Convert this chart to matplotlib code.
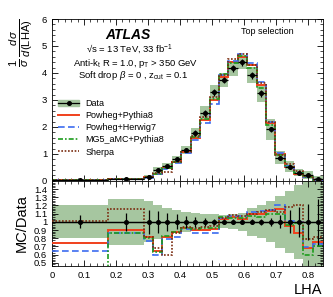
import numpy as np
import matplotlib
matplotlib.use('Agg')
import matplotlib.pyplot as plt
from matplotlib.patches import Patch
from matplotlib.lines import Line2D
from matplotlib.ticker import MultipleLocator

plt.rcParams['font.family'] = ['Liberation Sans', 'DejaVu Sans']
plt.rcParams['mathtext.fontset'] = 'custom'
plt.rcParams['mathtext.rm'] = 'Liberation Sans'
plt.rcParams['mathtext.it'] = 'Liberation Sans:italic'
plt.rcParams['mathtext.bf'] = 'Liberation Sans:bold'

# LHA bin edges
edges = [0.0, 0.175, 0.287, 0.316, 0.345, 0.375, 0.404, 0.433, 0.463, 0.492,
         0.521, 0.551, 0.580, 0.609, 0.639, 0.668, 0.697, 0.727, 0.756,
         0.785, 0.815, 0.845]

# unfolded data, 1/sigma dsigma/d(LHA)
data = [0.04, 0.06, 0.16, 0.41, 0.56, 0.80, 1.15, 1.77, 2.51, 3.28, 3.74,
        4.17, 4.40, 3.91, 3.25, 1.91, 0.86, 0.53, 0.31, 0.21, 0.06]
# relative stat. error on data points
data_err = [0.08, 0.11, 0.15, 0.13, 0.11, 0.09, 0.07, 0.06, 0.05, 0.04, 0.03,
            0.03, 0.03, 0.03, 0.04, 0.05, 0.08, 0.14, 0.18, 0.22, 0.28]
# total uncertainty band: absolute half height (main) / relative (ratio)
band_main = [0.01, 0.02, 0.07, 0.10, 0.10, 0.12, 0.15, 0.20, 0.25, 0.27, 0.27,
             0.27, 0.26, 0.30, 0.32, 0.40, 0.24, 0.19, 0.14, 0.14, 0.12]
band_ratio = [0.20, 0.28, 0.25, 0.21, 0.17, 0.14, 0.12, 0.11, 0.10, 0.09, 0.08,
              0.09, 0.11, 0.17, 0.20, 0.25, 0.32, 0.38, 0.45, 0.55, 0.60]

# MC / Data
r_pp8 = [0.74, 0.90, 0.82, 0.64, 0.82, 0.88, 0.92, 0.90, 0.90, 0.91, 1.03,
         1.06, 1.04, 1.10, 1.09, 1.13, 1.16, 0.95, 0.87, 0.68, 0.75]
r_ph7 = [0.65, 0.86, 0.77, 0.59, 0.79, 0.82, 0.91, 0.86, 0.86, 0.87, 1.05,
         1.07, 1.07, 1.12, 1.13, 1.14, 1.21, 1.01, 1.00, 0.69, 0.73]
r_mg5 = [0.45, 0.87, 0.80, 0.63, 0.83, 0.88, 0.93, 0.91, 0.92, 0.93, 1.06,
         1.05, 1.05, 1.07, 1.06, 1.09, 1.10, 0.96, 0.98, 0.60, 0.70]
r_sherpa = [1.01, 1.16, 0.82, 0.68, 0.59, 0.86, 0.94, 0.93, 0.94, 0.95, 1.05,
            1.08, 1.07, 1.10, 1.12, 1.15, 1.12, 1.18, 1.20, 0.79, 0.81]

generators = [
    ('Powheg+Pythia8', r_pp8, '#f0401c', '-', 1.4),
    ('Powheg+Herwig7', r_ph7, '#3c6cf0', (0, (4, 2)), 1.2),
    ('MG5_aMC+Pythia8', r_mg5, '#1c9c1c', (0, (3, 1.2, 1, 1.2)), 1.2),
    ('Sherpa', r_sherpa, '#7a2c10', (0, (1, 1)), 1.2),
]

band_col = '#a6c6a0'

edges_a = np.array(edges)
data_a = np.array(data)
centers = 0.5 * (edges_a[1:] + edges_a[:-1])
half_w = 0.5 * (edges_a[1:] - edges_a[:-1])

fig = plt.figure(figsize=(3.33, 2.97), dpi=100)
ax = fig.add_axes([0.156, 0.391, 0.813, 0.545])
rax = fig.add_axes([0.156, 0.104, 0.813, 0.287])

# --- main panel
ax.stairs(data_a + np.array(band_main), edges, baseline=data_a - np.array(band_main),
          fill=True, color=band_col, lw=0, zorder=1)
for name, r, col, ls, lw in generators:
    ax.stairs(np.array(r) * data_a, edges, baseline=None, color=col, ls=ls, lw=lw, zorder=2)
ax.errorbar(centers, data, xerr=half_w, yerr=data_a * np.array(data_err),
            fmt='o', color='k', ms=2.6, lw=0.9, capsize=0, zorder=3)

ax.set_xlim(0, 0.845)
ax.set_ylim(0, 6)
ax.yaxis.set_major_locator(MultipleLocator(1))
ax.yaxis.set_minor_locator(MultipleLocator(0.2))
ax.xaxis.set_major_locator(MultipleLocator(0.1))
ax.xaxis.set_minor_locator(MultipleLocator(0.02))
ax.tick_params(labelbottom=False)
ax.set_ylabel(r'$\frac{1}{\sigma}\,\frac{d\sigma}{d(\mathrm{LHA})}$', fontsize=11.5,
              loc='top', labelpad=5)

ax.text(0.28, 0.90, 'ATLAS', transform=ax.transAxes, ha='center', va='center',
        fontsize=10, fontweight='bold', fontstyle='italic')
ax.text(0.285, 0.81, '\u221as = 13 TeV, 33 fb$^{-1}$', transform=ax.transAxes,
        ha='center', va='center', fontsize=6.8)
ax.text(0.31, 0.728, r'Anti-k$_\mathrm{t}$ R = 1.0, p$_\mathrm{T}$ > 350 GeV',
        transform=ax.transAxes, ha='center', va='center', fontsize=6.8)
ax.text(0.30, 0.648, r'Soft drop $\beta$ = 0 , z$_\mathrm{cut}$ = 0.1',
        transform=ax.transAxes, ha='center', va='center', fontsize=6.8)
ax.text(0.796, 0.92, 'Top selection', transform=ax.transAxes,
        ha='center', va='center', fontsize=6.5)

handles = [(Patch(color=band_col), Line2D([], [], color='k', marker='o', ms=2.6, lw=0.9))]
labels = ['Data']
for name, r, col, ls, lw in generators:
    handles.append(Line2D([], [], color=col, ls=ls, lw=lw))
    labels.append(name)
ax.legend(handles, labels, loc='upper left', bbox_to_anchor=(0.0, 0.545),
          frameon=False, fontsize=6.5, handlelength=2.3, handletextpad=0.7,
          labelspacing=0.35, borderaxespad=0.3)

# --- ratio panel
br = np.array(band_ratio)
rax.stairs(1 + br, edges, baseline=1 - br, fill=True, color=band_col, lw=0, zorder=1)
rax.axhline(1, color='k', lw=0.9, zorder=2)
for name, r, col, ls, lw in generators:
    rax.stairs(r, edges, baseline=None, color=col, ls=ls, lw=lw, zorder=3)
rax.errorbar(centers, np.ones_like(centers), xerr=half_w, yerr=data_err,
             fmt='o', color='k', ms=2.6, lw=0.9, capsize=0, zorder=4)

rax.set_xlim(0, 0.845)
rax.set_ylim(0.46, 1.5)
rax.set_yticks(np.round(np.arange(0.5, 1.45, 0.1), 1))
rax.set_yticklabels(['0.5', '0.6', '0.7', '0.8', '0.9', '1', '1.1', '1.2', '1.3', '1.4'])
rax.yaxis.set_minor_locator(MultipleLocator(0.02))
rax.set_xticks(np.round(np.arange(0, 0.85, 0.1), 1))
rax.set_xticklabels(['0', '0.1', '0.2', '0.3', '0.4', '0.5', '0.6', '0.7', '0.8'])
rax.xaxis.set_minor_locator(MultipleLocator(0.02))
rax.set_ylabel('MC/Data', fontsize=10.5, labelpad=4)
rax.set_xlabel('LHA', fontsize=10.5, loc='right', labelpad=2)

for a in (ax, rax):
    a.tick_params(which='both', direction='in', top=True, right=True, labelsize=6.8)
    a.tick_params(which='major', length=4.3, width=0.6)
    a.tick_params(which='minor', length=2.2, width=0.5)
    for s in a.spines.values():
        s.set_linewidth(0.6)

fig.savefig('out.png', dpi=100)
